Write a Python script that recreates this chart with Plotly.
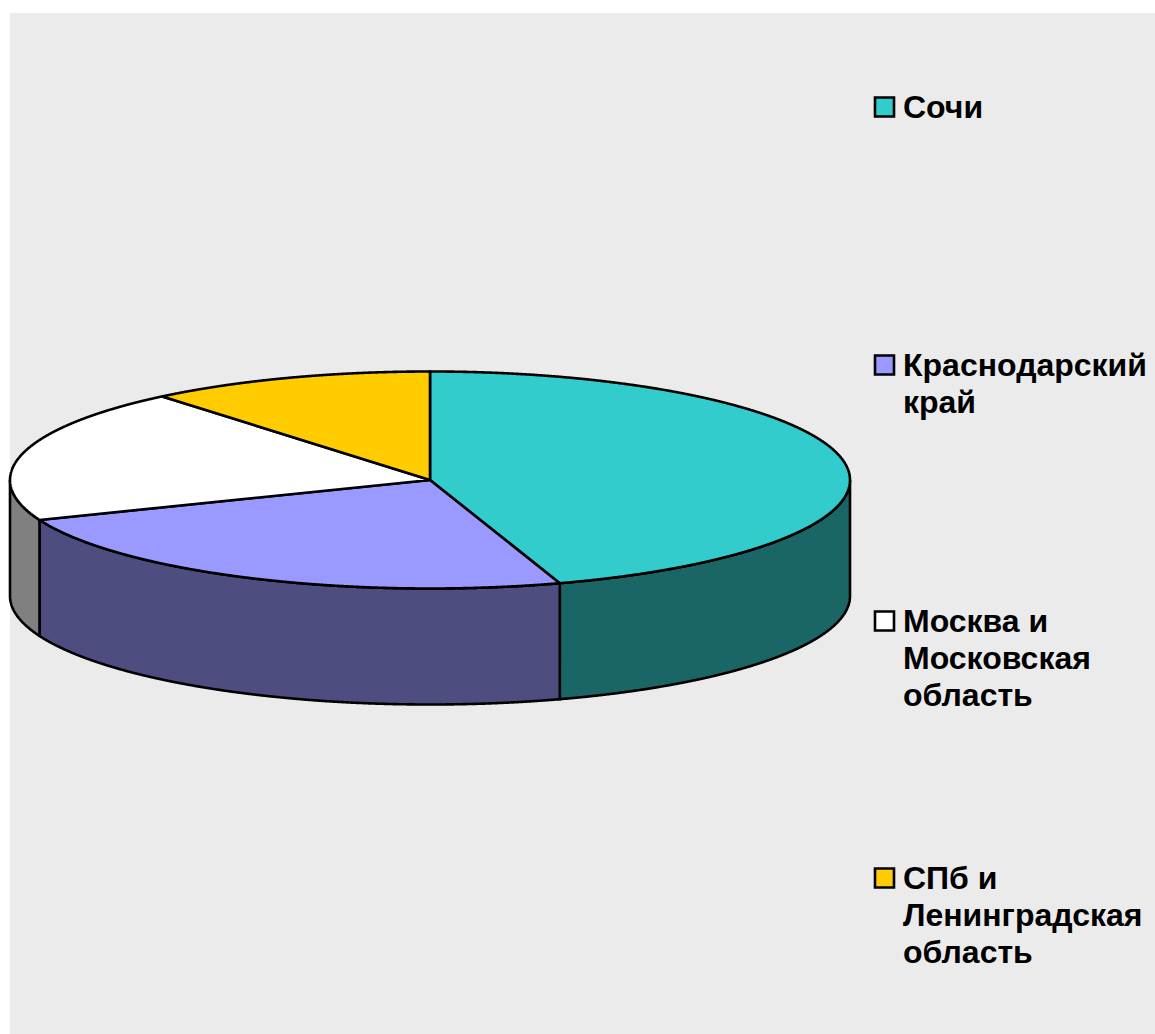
import numpy as np
import plotly.graph_objects as go

categories = ["Сочи", "Краснодарский<br>край", "Москва и<br>Московская<br>область", "СПб и<br>Ленинградская<br>область"]
values = [45, 24, 20, 11]
top_colors = ["#33CCCC", "#9999FF", "#FFFFFF", "#FFCC00"]
side_colors = ["#1A6666", "#4D4D80", "#808080", "#806600"]

W, H = 1155, 1034
CX, CY, RX, RY, DEPTH = 430, 480, 420, 108.5, 116
legend_y = [107, 365, 621, 878]
LINE_STEP = 37
LINE = dict(color="black", width=2.6, simplify=False)


def rim(a, b, dy=0.0):
    t = np.radians(np.linspace(a, b, max(int(abs(b - a) * 8), 2)))
    return CX + RX * np.sin(t), CY - RY * np.cos(t) + dy


fig = go.Figure()
edges = np.concatenate([[0], np.cumsum(values) / sum(values) * 360])

# visible outer wall: the front half of the rim, clockwise angles 90-270 from the top
for i, color in enumerate(side_colors):
    a, b = max(edges[i], 90), min(edges[i + 1], 270)
    if a >= b:
        continue
    x1, y1 = rim(a, b)
    x2, y2 = rim(b, a, DEPTH)
    fig.add_trace(go.Scatter(x=np.r_[x1, x2, x1[0]], y=np.r_[y1, y2, y1[0]], mode="lines",
                             fill="toself", fillcolor=color, line=LINE, hoverinfo="skip"))

# top face
for i, color in enumerate(top_colors):
    x1, y1 = rim(edges[i], edges[i + 1])
    fig.add_trace(go.Scatter(x=np.r_[CX, x1, CX], y=np.r_[CY, y1, CY], mode="lines",
                             fill="toself", fillcolor=color, line=LINE,
                             name=categories[i], hoverinfo="name"))

# legend swatches
fig.add_trace(go.Scatter(x=[884.5] * 4, y=legend_y, mode="markers", hoverinfo="skip",
                         marker=dict(symbol="square", size=19, color=top_colors,
                                     line=dict(color="black", width=2.6))))

annotations = []
for c, yy in zip(categories, legend_y):
    for k, part in enumerate(c.split("<br>")):
        annotations.append(dict(x=901, y=yy + k * LINE_STEP, xref="x", yref="y",
                                text=f"<b>{part}</b>", showarrow=False,
                                xanchor="left", yanchor="middle", align="left",
                                font=dict(family="Liberation Sans", size=32, color="black")))

fig.update_layout(
    width=W, height=H, margin=dict(l=0, r=0, t=0, b=0), showlegend=False,
    paper_bgcolor="white", plot_bgcolor="white",
    xaxis=dict(range=[0, W], visible=False, fixedrange=True),
    yaxis=dict(range=[H, 0], visible=False, fixedrange=True),
    annotations=annotations,
    shapes=[dict(type="rect", xref="x", yref="y", x0=10, y0=13, x1=W, y1=H,
                 fillcolor="#EBEBEB", line_width=0, layer="below")],
)
fig.write_html("out.html", config={"displayModeBar": False},
               post_script="document.body.style.margin='0';document.documentElement.style.overflow='hidden';")
